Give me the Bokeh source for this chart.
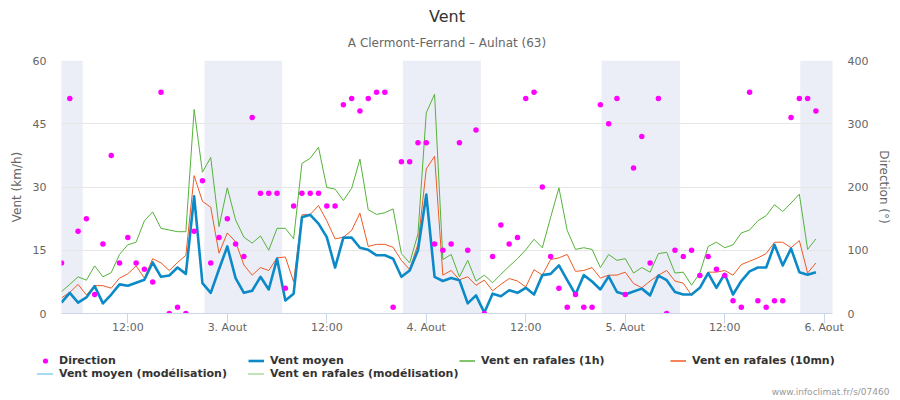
import pandas as pd
from bokeh.plotting import figure
from bokeh.layouts import column, row
from bokeh.models import (Range1d, LinearAxis, FixedTicker, BoxAnnotation, Legend,
                          LegendItem, Title, Label, ColumnDataSource)
from bokeh.embed import file_html
from bokeh.resources import INLINE

# ---------------- data ----------------
first_time = "2016-08-02 04:00"
n_points = 92
x_start = "2016-08-02 04:00"
x_end = "2016-08-06 01:00"

vent_moyen = [2.6, 4.9, 2.6, 3.8, 6.5, 2.4, 4.5, 6.9, 6.6, 7.3, 8.0, 12.1, 8.7, 9.0, 10.9, 9.4,
              27.8, 7.2, 4.9, 10.5, 15.9, 8.4, 4.9, 5.4,
              8.7, 5.7, 13.0, 3.1, 4.7, 22.8, 23.4, 21.3, 18.1, 10.9, 18.0, 18.0, 15.6, 15.1,
              13.8, 13.8, 13.0, 8.7, 10.2, 15.0, 28.2, 8.7, 7.7, 8.4,
              7.9, 2.4, 4.3, 0.2, 4.7, 4.1, 5.5, 4.9, 6.1, 4.5, 9.1, 9.4, 11.4, 7.9, 4.5, 9.1,
              7.6, 5.7, 8.8, 5.1, 4.5, 5.2, 5.9,
              4.3, 9.0, 7.9, 5.1, 4.5, 4.5, 6.1, 9.6, 6.1, 9.4, 4.5, 7.7, 10.0, 10.9, 10.9,
              16.3, 11.4, 15.4, 9.8, 9.2, 9.8]

rafales_1h = [5.2, 6.9, 8.7, 7.9, 11.3, 8.7, 9.7, 14.0, 16.3, 16.9, 22.0, 24.1, 20.2, 19.8, 19.4,
              19.4, 48.4, 33.5, 37.0, 20.6, 29.8, 22.2, 18.1, 16.7,
              18.4, 15.0, 20.2, 20.2, 17.7, 35.6, 36.8, 39.4, 29.9, 29.5, 26.8, 29.7, 36.6, 24.6,
              23.5, 23.9, 24.8, 14.2, 12.0, 18.9, 47.6, 52.0, 12.8, 14.0,
              8.7, 12.6, 7.7, 9.1, 7.3, 9.3, 11.2, 13.0, 15.1, 17.6, 15.6, 22.8, 29.8, 19.7, 15.2,
              15.6, 15.2, 10.9, 14.0, 12.6, 13.0, 9.6, 10.9,
              9.8, 14.2, 14.5, 9.6, 9.8, 6.7, 9.6, 15.9, 16.9, 15.6, 16.3, 19.1, 19.8, 22.0, 23.2,
              25.8, 24.2, 26.2, 28.3, 15.2, 17.7]

rafales_10mn = [3.7, 5.0, 6.9, 4.4, 6.6, 6.6, 6.0, 8.4, 9.4, 11.3, 8.4, 13.0, 12.0, 10.2, 12.1,
                13.8, 32.7, 26.6, 25.2, 14.3, 19.1, 17.0, 11.5, 9.1,
                10.9, 10.2, 13.2, 13.4, 7.5, 23.4, 23.5, 25.6, 22.0, 17.7, 18.1, 19.7, 23.8, 15.9,
                16.4, 16.4, 15.7, 12.6, 10.4, 16.5, 34.3, 37.3, 9.1, 10.2,
                8.0, 8.7, 6.7, 7.9, 5.4, 6.9, 8.3, 7.7, 6.3, 10.4, 9.1, 12.8, 13.2, 14.0, 10.0,
                10.2, 10.9, 8.4, 9.1, 9.1, 9.8, 7.1, 6.1,
                7.7, 9.1, 10.2, 7.7, 7.2, 4.3, 6.1, 9.8, 9.8, 10.2, 9.1, 11.6, 12.4, 13.2, 14.2,
                16.9, 16.9, 15.6, 17.3, 9.6, 12.0]

direction = [80, 340, 130, 150, 30, 110, 250, 80, 120, 80, 70, 50, 350, 0, 10, 0, 130, 210, 80,
             120, 150, 110, 90, 310,
             190, 190, 190, 40, 170, 190, 190, 190, 170, 170, 330, 340, 320, 340, 350, 350, 10,
             240, 240, 270, 270, 110, 100, 110,
             270, 100, 290, 0, 90, 140, 110, 120, 340, 350, 200, 90, 40, 10, 30, 10, 10, 330,
             300, 340, 30, 230, 280,
             80, 340, 0, 100, 90, 100, 60, 90, 70, 60, 20, 10, 350, 20, 10, 20, 20, 310, 340,
             340, 320]

night_start = ["2016-08-01 21:14", "2016-08-02 21:14", "2016-08-03 21:11",
               "2016-08-04 21:09", "2016-08-05 21:07"]
night_end = ["2016-08-02 06:34", "2016-08-03 06:37", "2016-08-04 06:35",
             "2016-08-05 06:37", "2016-08-06 06:38"]

tick_times = ["2016-08-02 12:00", "2016-08-03 00:00", "2016-08-03 12:00", "2016-08-04 00:00",
              "2016-08-04 12:00", "2016-08-05 00:00", "2016-08-05 12:00", "2016-08-06 00:00"]
tick_labels = ["12:00", "3. Aout", "12:00", "4. Aout", "12:00", "5. Aout", "12:00", "6. Aout"]

wind_ticks = [0, 15, 30, 45, 60]
dir_ticks = [0, 100, 200, 300, 400]

series_names = ["Direction", "Vent moyen", "Vent en rafales (1h)", "Vent en rafales (10mn)",
                "Vent moyen (modélisation)", "Vent en rafales (modélisation)"]

title_text = "Vent"
subtitle_text = "A Clermont-Ferrand – Aulnat (63)"
credit_text = "www.infoclimat.fr/s/07460"

# ---------------- styles ----------------
FONT = "DejaVu Sans"
GRID = "#e6e6e6"
AXIS = "#ccd6eb"
C_DIR = "#ff00ff"
C_MOY = "#0c8ac7"
C_1H = "#55b23a"
C_10 = "#ee5a24"
C_MOD_MOY = "#4fb6e6"
C_MOD_RAF = "#86c977"


def ms(t):
    return int(pd.Timestamp(t).value // 10**6)


times = pd.date_range(first_time, periods=n_points, freq="h")
src = ColumnDataSource(dict(t=times, moyen=vent_moyen, r1h=rafales_1h,
                            r10=rafales_10mn, dir=direction))

# ---------------- main chart ----------------
p = figure(width=900, height=340, x_axis_type="datetime", title=None,
           x_range=Range1d(ms(x_start), ms(x_end)), y_range=Range1d(0, 60),
           output_backend="svg", toolbar_location=None,
           min_border_left=61, min_border_right=68, min_border_top=60, min_border_bottom=27,
           outline_line_color=None, background_fill_color="white", border_fill_color="white")

p.extra_y_ranges = {"dir": Range1d(0, 400)}

for s, e in zip(night_start, night_end):
    p.add_layout(BoxAnnotation(left=ms(s), right=ms(e), fill_color="#ebeef6", fill_alpha=1.0,
                               line_color=None, level="image"))

xa = p.xaxis[0]
xa.ticker = FixedTicker(ticks=[ms(t) for t in tick_times])
xa.major_label_overrides = {ms(t): lab for t, lab in zip(tick_times, tick_labels)}
xa.axis_line_color = AXIS
xa.major_tick_line_color = AXIS
xa.major_tick_out = 10
xa.major_tick_in = 0
xa.minor_tick_line_color = None
xa.minor_tick_out = 0
xa.major_label_standoff = -3
xa.major_label_text_font = FONT
xa.major_label_text_font_size = "11px"
xa.major_label_text_color = "#666666"
p.xgrid.grid_line_color = None

ya = p.yaxis[0]
ya.ticker = FixedTicker(ticks=wind_ticks)
ya.axis_line_color = None
ya.major_tick_line_color = None
ya.minor_tick_line_color = None
ya.major_tick_out = 0
ya.minor_tick_out = 0
ya.major_label_standoff = 15
ya.major_label_text_font = FONT
ya.major_label_text_font_size = "11px"
ya.major_label_text_color = "#666666"
ya.axis_label = "Vent (km/h)"
ya.axis_label_text_font = FONT
ya.axis_label_text_font_size = "12px"
ya.axis_label_text_font_style = "normal"
ya.axis_label_text_color = "#666666"
ya.axis_label_standoff = 6
p.ygrid.ticker = FixedTicker(ticks=wind_ticks)
p.ygrid.grid_line_color = GRID

ra = LinearAxis(y_range_name="dir", ticker=FixedTicker(ticks=dir_ticks),
                axis_label="Direction (°)")
ra.axis_line_color = None
ra.major_tick_line_color = None
ra.minor_tick_line_color = None
ra.major_tick_out = 0
ra.minor_tick_out = 0
ra.major_label_standoff = 15
ra.major_label_text_font = FONT
ra.major_label_text_font_size = "11px"
ra.major_label_text_color = "#666666"
ra.axis_label_text_font = FONT
ra.axis_label_text_font_size = "12px"
ra.axis_label_text_font_style = "normal"
ra.axis_label_text_color = "#666666"
ra.axis_label_standoff = 6
p.add_layout(ra, "right")

p.line("t", "r1h", source=src, line_color=C_1H, line_width=1, line_join="round")
p.line("t", "r10", source=src, line_color=C_10, line_width=1, line_join="round")
p.line("t", "moyen", source=src, line_color=C_MOY, line_width=2.6, line_join="round")
p.scatter("t", "dir", source=src, y_range_name="dir", size=5.5,
          fill_color=C_DIR, line_color=None)

# titles (subtitle first: closest to the frame)
p.add_layout(Title(text=subtitle_text, align="center", offset=3, standoff=21,
                   text_font=FONT, text_font_size="12px", text_font_style="normal",
                   text_color="#666666"), "above")
p.add_layout(Title(text=title_text, align="center", offset=3, standoff=-5,
                   text_font=FONT, text_font_size="16px", text_font_style="normal",
                   text_color="#333333"), "above")

# ---------------- legend strip ----------------
q = figure(width=900, height=60, x_range=Range1d(0, 900), y_range=Range1d(0, 60),
           x_axis_location=None, y_axis_location=None, title=None,
           output_backend="svg", toolbar_location=None,
           min_border_left=0, min_border_right=0, min_border_top=0, min_border_bottom=0,
           outline_line_color=None, background_fill_color="white", border_fill_color="white")
q.grid.visible = False

# legend swatches: renderers whose only points lie outside the visible strip
off_x = [-60, -50]
off_y = [-60, -60]
g_dir = q.scatter(off_x[:1], off_y[:1], size=5.5, fill_color=C_DIR, line_color=None)
g_moy = q.line(off_x, off_y, line_color=C_MOY, line_width=2.6)
g_1h = q.line(off_x, off_y, line_color=C_1H, line_width=1.5)
g_10 = q.line(off_x, off_y, line_color=C_10, line_width=1.5)
g_mm = q.line(off_x, off_y, line_color=C_MOD_MOY, line_width=2, line_dash="1 1")
g_mr = q.line(off_x, off_y, line_color=C_MOD_RAF, line_width=2, line_dash="1 1")

legend = Legend(items=[LegendItem(label=n, renderers=[r]) for n, r in
                       zip(series_names, [g_dir, g_moy, g_1h, g_10, g_mm, g_mr])],
                location=(37, 20), orientation="horizontal", ncols=4, padding=0, margin=0,
                spacing=0, glyph_width=16, glyph_height=13, label_standoff=6, label_width=189,
                label_height=13, label_text_font=FONT, label_text_font_size="11px",
                label_text_font_style="bold", label_text_color="#333333",
                border_line_color=None, background_fill_alpha=0)
q.add_layout(legend)

q.add_layout(Label(x=889, y=9, x_units="screen", y_units="screen", text=credit_text,
                   text_align="right", text_baseline="middle", text_font=FONT,
                   text_font_size="9px", text_color="#999999"))

open("out.html", "w").write(file_html(column(p, row(q), spacing=0), INLINE))
